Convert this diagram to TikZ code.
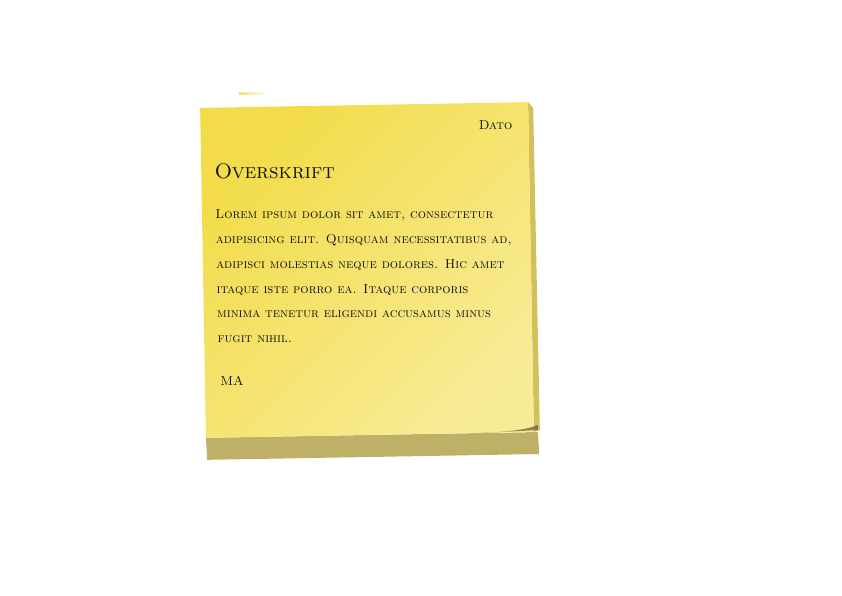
\documentclass[tikz,border=0pt]{standalone}
\usetikzlibrary{positioning}
\definecolor{noteyellow}{HTML}{F2DC4A}
\definecolor{notelight}{HTML}{F8EB95}
\definecolor{noteedge}{HTML}{BFB067}
\definecolor{noteside}{HTML}{D2C05A}
\definecolor{ink}{HTML}{101010}

\begin{document}
\begin{tikzpicture}[x=1pt, y=1pt, semithick,
	bodytext/.style={ink, anchor=base west, inner sep=0pt, font=\fontsize{13}{16}\selectfont\scshape},
	heading/.style={ink, anchor=base west, inner sep=0pt, font=\fontsize{21}{24}\selectfont\scshape},
	datetext/.style={ink, anchor=base east, inner sep=0pt, font=\fontsize{13}{15}\selectfont\scshape}]
	\useasboundingbox (0,0) rectangle (842,595);

	% smudge above the note
	\shade[left color=noteyellow!80, middle color=gray!50, right color=white] (239,500) rectangle (268,502.5);

	\begin{scope}[shift={(367,325)}, rotate=1]
		% pad edge and side
		\fill[noteedge] (-164,-165) -- (168,-165) -- (169,-187) -- (-163,-187) -- cycle;
		\fill[noteside] (164,165) -- (169,159) -- (170,-163) -- (164,-165) -- cycle;
		% top sheet
		\shade[top color=noteyellow, bottom color=notelight, shading angle=45] (-164,165) rectangle (164,-165);
		\fill[noteedge!55!black, opacity=0.75] (110,-165) .. controls (140,-164.5) and (158,-162) .. (168,-158) -- (168,-163) -- cycle;

		\node[datetext] (dato) at (148,138) {Dato};
		\node[heading] (title) at (-151,94) {Overskrift};
		\foreach \txt [count=\i from 0] in {{Lorem ipsum dolor sit amet, consectetur},
			{adipisicing elit. Quisquam necessitatibus ad,},
			{adipisci molestias neque dolores. Hic amet},
			{itaque iste porro ea. Itaque corporis},
			{minima tenetur eligendi accusamus minus},
			{fugit nihil.}}
			\node[bodytext] (line\i) at (-151,{54-24.8*\i}) {\txt};
		\node[bodytext] (sign) at (-149,-113) {MA};
	\end{scope}
\end{tikzpicture}
\end{document}
